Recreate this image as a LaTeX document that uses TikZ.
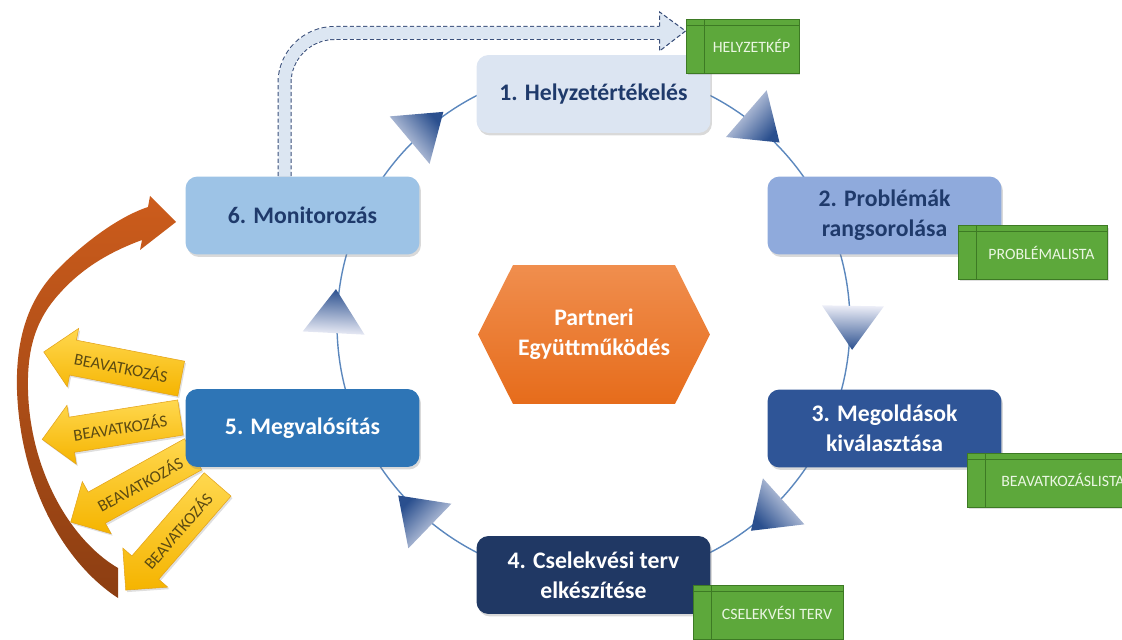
\documentclass[tikz,border=0pt]{standalone}
\usepackage{fontspec}
\setmainfont{Carlito}
\usetikzlibrary{arrows.meta, positioning, calc, shapes.arrows, shadows, backgrounds}

\definecolor{navytext}{HTML}{1F3A6B}
\definecolor{ph1}{HTML}{DCE5F2}
\definecolor{ph2}{HTML}{8FAADC}
\definecolor{ph3}{HTML}{2F5597}
\definecolor{ph4}{HTML}{203864}
\definecolor{ph5}{HTML}{2E75B6}
\definecolor{ph6}{HTML}{9DC3E6}
\definecolor{outgreen}{HTML}{5DA83B}
\definecolor{outline}{HTML}{3D7A24}
\definecolor{outtext}{HTML}{EAF6E2}
\definecolor{hextop}{HTML}{F08E4E}
\definecolor{hexbot}{HTML}{E66C1B}
\definecolor{ringblue}{HTML}{5B87BD}
\definecolor{tridark}{HTML}{2A4F8E}
\definecolor{trilight}{HTML}{EEEFF8}
\definecolor{loopup}{HTML}{CC5C1C}
\definecolor{loopdown}{HTML}{8C3E12}
\definecolor{actlight}{HTML}{FFD84F}
\definecolor{actdark}{HTML}{F5B400}
\definecolor{actedge}{HTML}{E3A21A}
\definecolor{acttext}{HTML}{5B4A12}
\definecolor{fbfill}{HTML}{DCE6F2}
\definecolor{fbline}{HTML}{3A4F7A}

\tikzset{
  phase/.style={rounded corners=0.24cm, minimum width=4.68cm, minimum height=1.56cm,
    align=center, inner sep=2pt, font=\fontsize{13.5}{17}\selectfont\bfseries,
    drop shadow={opacity=0.3, shadow xshift=0.03cm, shadow yshift=-0.05cm}},
  output/.style={fill=outgreen, draw=outline, line width=0.5pt, minimum height=1.08cm,
    inner sep=1pt, text=outtext, font=\fontsize{9}{11}\selectfont,
    execute at begin node={\hspace*{0.36cm}},
    drop shadow={opacity=0.25, shadow xshift=0.03cm, shadow yshift=-0.04cm},
    path picture={
      \draw[outline, line width=0.5pt] ([xshift=0.36cm]path picture bounding box.north west)
        -- ([xshift=0.36cm]path picture bounding box.south west);
      \draw[outline, line width=0.5pt] ([yshift=-0.12cm]path picture bounding box.north west)
        -- ([yshift=-0.12cm]path picture bounding box.north east);}},
  hub/.style={minimum width=4.64cm, minimum height=2.78cm,
    text=white, align=center, font=\fontsize{13.5}{17}\selectfont\bfseries,
    path picture={
      \shade[top color=hextop, bottom color=hexbot] (path picture bounding box.west)
        -- ([xshift=0.7cm]path picture bounding box.north west)
        -- ([xshift=-0.7cm]path picture bounding box.north east)
        -- (path picture bounding box.east)
        -- ([xshift=-0.7cm]path picture bounding box.south east)
        -- ([xshift=0.7cm]path picture bounding box.south west) -- cycle;}},
  action/.style={single arrow, shape border rotate=180, single arrow head extend=0.24cm,
    single arrow tip angle=90, minimum height=2.8cm, inner xsep=1pt, inner ysep=0.21cm,
    top color=actlight, bottom color=actdark, draw=actedge, line width=0.3pt,
    text=acttext, font=\fontsize{9.5}{11}\selectfont,
    drop shadow={opacity=0.25, shadow xshift=0.03cm, shadow yshift=-0.04cm}},
  ringline/.style={draw=ringblue, line width=0.8pt},
  tri/.style={top color=tridark, middle color=tridark!20!trilight, bottom color=trilight},
  loopshade/.style={top color=loopup, bottom color=loopdown},
}

\begin{document}
\begin{tikzpicture}[x=0.02cm, y=0.02cm]
  \useasboundingbox (0,0) rectangle (1122,639);

  % orange loop arrow
  \shade[loopshade] (118,41) .. controls (60,79) and (20,159) .. (17,249)
    .. controls (15,319) and (40,352) .. (60,372)
    .. controls (80,392) and (115,421) .. (148,432)
    -- (150,443) -- (176,417) -- (140,389) -- (142,399)
    .. controls (115,389) and (85,374) .. (60,346)
    .. controls (35,319) and (27,289) .. (28,249)
    .. controls (30,169) and (70,99) .. (118,71) -- cycle;

  % interventions
  \coordinate (fan) at (291,239);
  \foreach \a in {169,189,209,229}{
    \pgfmathsetmacro\turn{\a-180}
    \node[action, rotate=\turn] (act\a) at ($(fan)+(\a:173)$) {BEAVATKOZÁS};
  }

  % phases
  \node[phase, fill=ph1, text=navytext] (b1) at (593.5,545) {1. Helyzetértékelés};
  \node[phase, fill=ph2, text=navytext] (b2) at (884.5,423.5) {2. Problémák\\rangsorolása};
  \node[phase, fill=ph3, text=white] (b3) at (884.5,210.5) {3. Megoldások\\kiválasztása};
  \node[phase, fill=ph4, text=white] (b4) at (593.5,64) {4. Cselekvési terv\\elkészítése};
  \node[phase, fill=ph5, text=white] (b5) at (302.5,211) {5. Megvalósítás};
  \node[phase, fill=ph6, text=navytext] (b6) at (302.5,423.5) {6. Monitorozás};

  \node[hub] (hub) at (594,304.5) {Partneri\\Együttműködés};

  % outputs
  \node[output, minimum width=2.26cm] (g1) at (742.5,593) {HELYZETKÉP};
  \node[output, minimum width=2.98cm] (g2) at (1032.5,386.5) {PROBLÉMALISTA};
  \node[output, minimum width=3.48cm] (g3) at (1054,159) {BEAVATKOZÁSLISTA};
  \node[output, minimum width=3.0cm] (g4) at (768,26.5) {CSELEKVÉSI TERV};

  % feedback to the first output
  \draw[fbline, line width=0.28cm, dash pattern=on 2.4pt off 1.4pt, rounded corners=1cm]
    ([xshift=-0.36cm]b6.north) |- ([shift={(-26,13)}]g1.west);
  \draw[fbfill, line width=0.24cm, rounded corners=1cm]
    ([xshift=-0.36cm]b6.north) |- ([shift={(-25,13)}]g1.west);
  \filldraw[fill=fbfill, draw=fbline, line width=0.6pt, dash pattern=on 2.4pt off 1.4pt]
    ([shift={(-26,6.5)}]g1.west) -- ([shift={(-26,-5)}]g1.west) -- ([shift={(0,15)}]g1.west)
    -- ([shift={(-26,34)}]g1.west) -- ([shift={(-26,19.5)}]g1.west);

  % cycle ring and direction marks
  \begin{scope}[on background layer]
    \coordinate (ring) at (593.5,315);
    \draw[ringline] (ring) circle[radius=256.5];
    \foreach \a in {54,4,-43,-129,182,135}{
      \pgfmathsetmacro\t{\a-95}
      \pgfmathsetmacro\tl{\a-5}
      \pgfmathsetmacro\tr{\a-185}
      \coordinate (mark) at ($(ring)+(\a:260)$);
      \shade[tri, shading angle=\tr] ([shift={(\tl:31)}]mark) -- ([shift={(\t:44)}]mark)
        -- ([shift={(\tr:31)}]mark) -- cycle;
    }
  \end{scope}
\end{tikzpicture}
\end{document}
